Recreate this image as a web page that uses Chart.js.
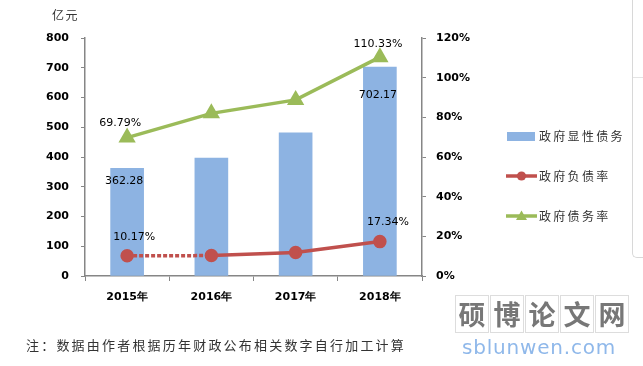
<!DOCTYPE html>
<html>
<head>
<meta charset="utf-8">
<script src="https://cdn.jsdelivr.net/npm/chart.js@4.4.1/dist/chart.umd.min.js"></script>
<style>
  html, body { margin: 0; padding: 0; background: #fff; }
  body { width: 643px; height: 366px; position: relative; overflow: hidden; font-family: "Noto Sans CJK SC", "DejaVu Sans", sans-serif; }
  #grafico { position: absolute; left: 0; top: 0; }
  .unidade { position: absolute; left: 52px; top: 6px; font-size: 12px; letter-spacing: 1.5px; color: #333; }
  .legenda { position: absolute; left: 506px; font-size: 12px; letter-spacing: 2.3px; color: #333; line-height: 16px; }
  .legenda .sim { position: absolute; left: 0; }
  .legenda span.txt { position: absolute; left: 33px; top: -8px; white-space: nowrap; }
  .nota { position: absolute; left: 26px; top: 335px; font-family: "Noto Sans CJK SC", sans-serif; font-size: 13px; letter-spacing: 2.2px; color: #333; white-space: nowrap; }
  .moldura { position: absolute; left: 632px; top: -2px; width: 14px; height: 259px; border-left: 1px solid #d8d8d8; border-bottom: 1px solid #d8d8d8; border-bottom-left-radius: 5px; }
  .moldura2 { position: absolute; left: 633px; top: 77px; width: 10px; border-top: 1px solid #e4e4e4; }
  .marca { position: absolute; left: 455px; top: 295px; display: flex; }
  .marca div { width: 32px; height: 36px; border: 1px solid #ddd; margin-right: 1px; font-size: 27px; line-height: 36px; text-align: center; color: #777; font-weight: bold; font-family: "Noto Sans CJK SC", sans-serif; }
  .site { position: absolute; left: 462px; top: 335px; font-family: "DejaVu Sans", sans-serif; font-size: 20px; color: #8fb8ea; letter-spacing: 0.8px; }
</style>
</head>
<body>
<canvas id="grafico" width="643" height="366"></canvas>
<div class="unidade">亿元</div>

<div class="legenda" style="top:136px"><svg class="sim" width="30" height="10" style="top:-4px"><rect x="1" y="0" width="28" height="9" fill="#8db3e2"/></svg><span class="txt">政府显性债务</span></div>
<div class="legenda" style="top:176px"><svg class="sim" width="32" height="12" style="top:-6px"><line x1="0" y1="6" x2="31" y2="6" stroke="#c0504d" stroke-width="3.5"/><circle cx="15.5" cy="6" r="4.6" fill="#c0504d"/></svg><span class="txt">政府负债率</span></div>
<div class="legenda" style="top:216px"><svg class="sim" width="32" height="12" style="top:-6px"><line x1="0" y1="6" x2="31" y2="6" stroke="#9bbb59" stroke-width="3.5"/><polygon points="15.5,0.5 21,10 10,10" fill="#9bbb59"/></svg><span class="txt">政府债务率</span></div>

<div class="moldura"></div>
<div class="moldura2"></div>
<div class="nota">注：数据由作者根据历年财政公布相关数字自行加工计算</div>
<div class="marca"><div>硕</div><div>博</div><div>论</div><div>文</div><div>网</div></div>
<div class="site">sblunwen.com</div>

<script>
// dados
const anos = ["2015年", "2016年", "2017年", "2018年"];
const dividaExplicita = [362.28, 396.5, 481.5, 702.17];   // 亿元
const taxaEndividamento = [10.17, 10.3, 11.8, 17.34];     // %
const taxaDivida = [69.79, 82.0, 88.8, 110.33];           // %
const ticksEsquerda = [0, 100, 200, 300, 400, 500, 600, 700, 800];
const ticksDireita = [0, 20, 40, 60, 80, 100, 120];

const corEixo = "#868686";
const fonteTick = { family: "DejaVu Sans", size: 11, weight: "bold" };

// rótulos de valor só no primeiro e no último ponto
const pluginRotulos = {
    id: "rotulos",
    afterDatasetsDraw(chart) {
        const ctx = chart.ctx;
        chart.data.datasets.forEach((ds, i) => {
            const cfg = ds.rotulos;
            if (!cfg) return;
            const meta = chart.getDatasetMeta(i);
            ctx.save();
            ctx.font = "11px 'DejaVu Sans'";
            ctx.fillStyle = "#000";
            ctx.textAlign = "center";
            ctx.textBaseline = "middle";
            cfg.forEach(r => {
                const el = meta.data[r.idx];
                const txt = ds.data[r.idx].toFixed(2) + (cfg.sufixo || "");
                ctx.fillText(txt, el.x + r.dx, el.y + r.dy);
            });
            ctx.restore();
        });
    }
};

const rotulosBarra = [{ idx: 0, dx: -3, dy: 13 }, { idx: 3, dx: -2, dy: 28 }];
const rotulosVerde = [{ idx: 0, dx: -7, dy: -14 }, { idx: 3, dx: -2, dy: -13 }];
const rotulosVermelho = [{ idx: 0, dx: 7, dy: -19 }, { idx: 3, dx: 8, dy: -19 }];
rotulosVerde.sufixo = "%";
rotulosVermelho.sufixo = "%";

new Chart(document.getElementById("grafico"), {
    data: {
        labels: anos,
        datasets: [
            {
                type: "line",
                label: "政府负债率",
                data: taxaEndividamento,
                yAxisID: "y1",
                borderColor: "#c0504d",
                backgroundColor: "#c0504d",
                borderWidth: 3.5,
                pointRadius: 5,
                pointStyle: "circle",
                tension: 0,
                segment: {
                    borderDash: c => c.p0DataIndex === 0 ? [4, 2] : undefined
                },
                rotulos: rotulosVermelho,
                order: 1
            },
            {
                type: "line",
                label: "政府债务率",
                data: taxaDivida,
                yAxisID: "y1",
                borderColor: "#9bbb59",
                backgroundColor: "#9bbb59",
                borderWidth: 3.5,
                pointRadius: 6.5,
                pointStyle: "triangle",
                tension: 0,
                rotulos: rotulosVerde,
                order: 0
            },
            {
                type: "bar",
                label: "政府显性债务",
                data: dividaExplicita,
                yAxisID: "y",
                backgroundColor: "#8db3e2",
                barThickness: 33,
                rotulos: rotulosBarra,
                order: 2
            }
        ]
    },
    options: {
        responsive: false,
        animation: false,
        events: [],
        layout: { padding: { left: 0, right: 643 - 422 - 60, top: 38, bottom: 366 - 276 - 30 } },
        plugins: { legend: { display: false }, tooltip: { enabled: false } },
        scales: {
            x: {
                offset: true,
                afterFit: s => { s.height = 30; },
                border: { display: true, color: corEixo, width: 1.5 },
                grid: { offset: true, drawOnChartArea: false, drawTicks: true, tickLength: 5, color: corEixo, lineWidth: 1 },
                ticks: { color: "#000", font: fonteTick, padding: 10 }
            },
            y: {
                position: "left",
                min: 0, max: 800,
                afterFit: s => { s.width = 85; },
                afterBuildTicks: s => { s.ticks = ticksEsquerda.map(v => ({ value: v })); },
                border: { display: true, color: corEixo, width: 1.5 },
                grid: { drawOnChartArea: false, drawTicks: true, tickLength: 4, color: corEixo },
                ticks: { color: "#000", font: fonteTick, padding: 12 }
            },
            y1: {
                position: "right",
                min: 0, max: 120,
                afterFit: s => { s.width = 60; },
                afterBuildTicks: s => { s.ticks = ticksDireita.map(v => ({ value: v })); },
                border: { display: true, color: corEixo, width: 1.5 },
                grid: { drawOnChartArea: false, drawTicks: true, tickLength: 4, color: corEixo },
                ticks: { color: "#000", font: fonteTick, padding: 10, callback: v => v + "%" }
            }
        }
    },
    plugins: [pluginRotulos]
});
</script>
</body>
</html>
